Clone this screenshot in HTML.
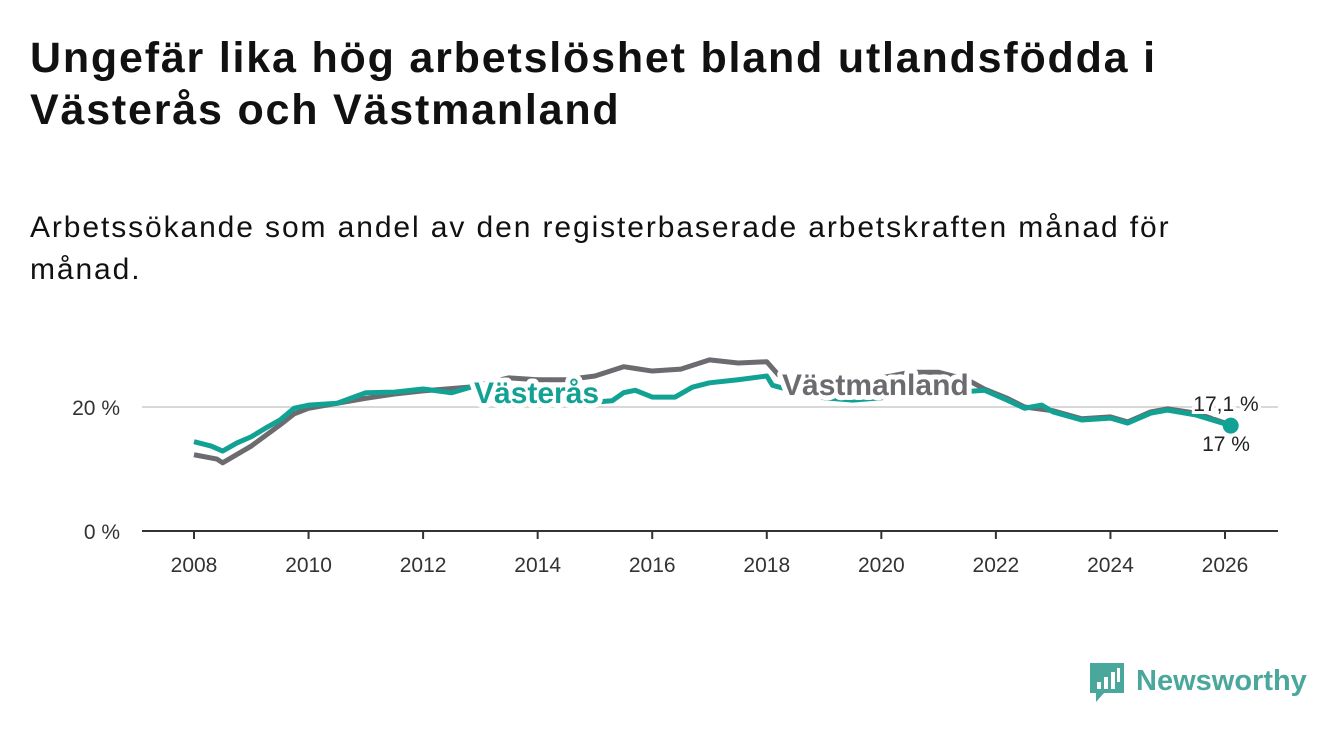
<!DOCTYPE html>
<html><head><meta charset="utf-8"><style>
body{margin:0;width:1340px;height:734px;background:#fff;font-family:"Liberation Sans",sans-serif;overflow:hidden;position:relative;color:#111}
h1{position:absolute;left:30px;top:32px;margin:0;font-size:43px;line-height:52px;font-weight:bold;color:#111;width:1200px;letter-spacing:1.8px}
.sub{position:absolute;left:30px;top:207px;font-size:30px;line-height:42px;width:1200px;color:#111;letter-spacing:1.9px}
svg{position:absolute;left:0;top:0}
</style></head><body>
<h1>Ungefär lika hög arbetslöshet bland utlandsfödda i<br>Västerås och Västmanland</h1>
<div class="sub">Arbetssökande som andel av den registerbaserade arbetskraften månad för<br>månad.</div>
<svg id="c" width="1340" height="734"></svg>
<script>
const xTicks=[2008,2010,2012,2014,2016,2018,2020,2022,2024,2026];
const yTicks=[0,20];
const vasterasDates=[2008,2008.3,2008.5,2008.75,2009,2009.25,2009.5,2009.75,2010,2010.5,2011,2011.5,2012,2012.5,2012.9,2013.5,2014,2014.5,2015,2015.3,2015.5,2015.7,2016,2016.4,2016.7,2017,2017.5,2018,2018.1,2018.5,2019,2019.5,2020,2020.5,2021,2021.5,2021.8,2022.2,2022.5,2022.8,2023,2023.5,2024,2024.3,2024.7,2025,2025.5,2026.1];
const vasterasValues=[14.4,13.7,12.9,14.2,15.2,16.6,17.9,19.8,20.3,20.6,22.3,22.4,22.9,22.3,23.4,22.5,20.8,21.1,20.8,21.0,22.3,22.7,21.6,21.6,23.2,23.9,24.4,25.0,23.5,22.5,21.5,21.1,21.5,22.0,22.3,22.5,22.7,21.1,19.8,20.3,19.2,17.9,18.2,17.4,19.0,19.5,18.7,17.0];
const vastmanlandDates=[2008,2008.4,2008.5,2009,2009.5,2009.75,2010,2011,2011.5,2012,2012.8,2013.5,2014,2014.5,2015,2015.5,2016,2016.5,2017,2017.5,2018,2018.2,2018.5,2019,2019.5,2020,2020.5,2021,2021.5,2021.8,2022.2,2022.5,2023,2023.5,2024,2024.3,2024.7,2025,2025.5,2026.1];
const vastmanlandValues=[12.3,11.6,11.0,13.7,17.1,18.9,19.8,21.4,22.1,22.6,23.2,24.7,24.4,24.4,25.0,26.5,25.8,26.1,27.6,27.1,27.3,25.2,24.4,23.6,23.5,24.7,25.6,25.6,24.4,22.9,21.4,20.0,19.4,18.1,18.4,17.6,19.2,19.7,19.0,17.1];
const svg=document.getElementById('c');const NS='http://www.w3.org/2000/svg';
const X=v=>194+(v-2008)*(1225-194)/18;
const Y=v=>531-v*6.2;
function el(t,a,txt){const e=document.createElementNS(NS,t);for(const k in a)e.setAttribute(k,a[k]);if(txt!==undefined)e.textContent=txt;svg.appendChild(e);return e;}
const g1=el('line',{x1:142,x2:1278,y1:Y(20),y2:Y(20),stroke:'#d8d8d8','stroke-width':2});


const ax=el('line',{x1:142,x2:1278,y1:Y(0),y2:Y(0),stroke:'#333','stroke-width':2});


yTicks.forEach(v=>{const t=el('text',{x:120,y:Y(v)+8,'text-anchor':'end','font-size':21,fill:'#333'},v+' %');

});
xTicks.forEach(v=>{const l=el('line',{x1:X(v),x2:X(v),y1:Y(0),y2:Y(0)+8,stroke:'#333','stroke-width':2});


const t=el('text',{x:X(v),y:572,'text-anchor':'middle','font-size':21,fill:'#333'},v);

});
function line(d,v,c,name){const p=el('polyline',{points:d.map((x,i)=>X(x)+','+Y(v[i])).join(' '),fill:'none',stroke:c,'stroke-width':5,'stroke-linejoin':'round'});

}
line(vastmanlandDates,vastmanlandValues,'#6b6b70','line-vastmanland');
line(vasterasDates,vasterasValues,'#12a294','line-vasteras');
const dot=el('circle',{cx:X(vasterasDates[vasterasDates.length-1]),cy:Y(vasterasValues[vasterasValues.length-1]),r:8,fill:'#12a294'});


const l1=el('text',{x:474,y:Y(20)-4,'font-size':30,'font-weight':'bold',fill:'#12a294',stroke:'#fff','stroke-width':10,'paint-order':'stroke','stroke-linejoin':'round'},'Västerås');


const l2=el('text',{x:782,y:Y(20)-12,'font-size':30,'font-weight':'bold',fill:'#6b6b70',stroke:'#fff','stroke-width':10,'paint-order':'stroke','stroke-linejoin':'round'},'Västmanland');


const v1=el('text',{x:1226,y:Y(20)+4,'text-anchor':'middle','font-size':21,fill:'#222',stroke:'#fff','stroke-width':6,'paint-order':'stroke'},vastmanlandValues[vastmanlandValues.length-1].toString().replace('.',',')+' %');


const v2=el('text',{x:1226,y:Y(20)+44,'text-anchor':'middle','font-size':21,fill:'#222'},vasterasValues[vasterasValues.length-1].toString().replace('.',',')+' %');


const lg=el('g',{});


lg.innerHTML='<path d="M1090 663h34v30h-20l-8 9v-9h-6z" fill="#4aa79b"/><rect x="1097" y="682" width="4" height="7" fill="#fff"/><rect x="1104" y="677" width="4" height="12" fill="#fff"/><rect x="1111" y="672" width="4" height="17" fill="#fff"/><rect x="1117" y="668" width="3" height="14" fill="#fff"/><text x="1136" y="690" font-size="29" font-weight="bold" fill="#4aa79b">Newsworthy</text>';
svg.appendChild(lg);
</script>
</body></html>
